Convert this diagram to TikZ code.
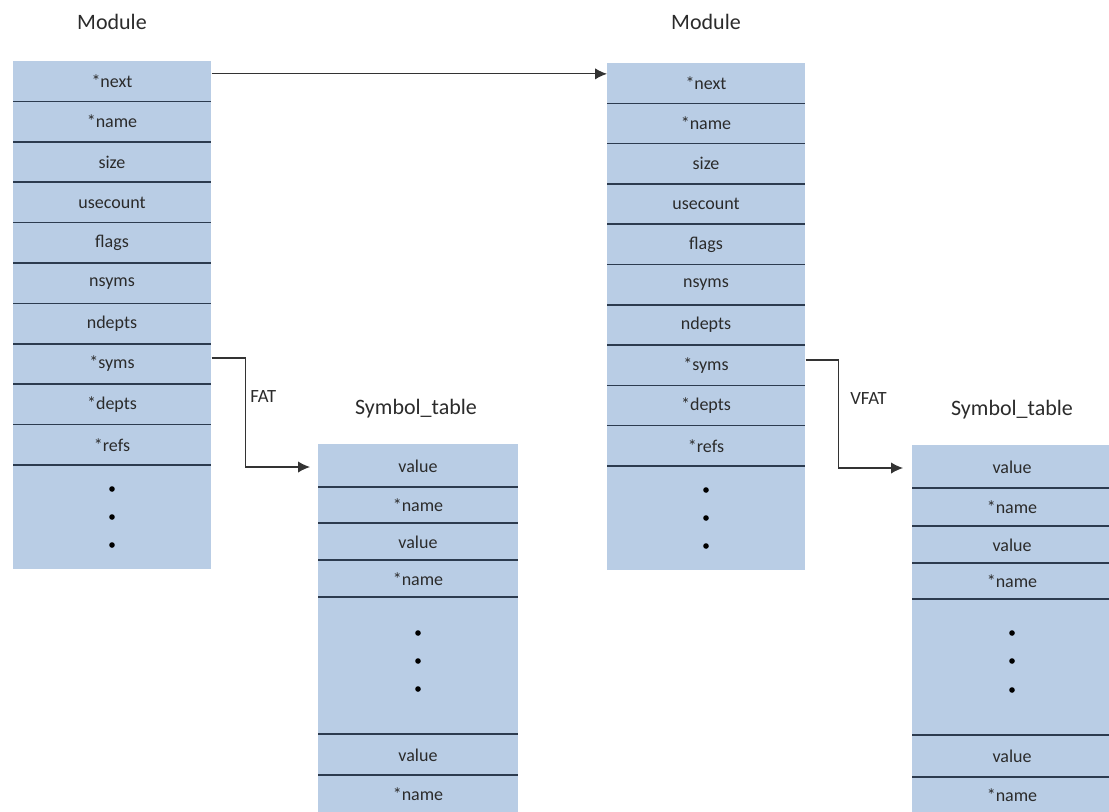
\documentclass[tikz,border=0pt]{standalone}
\usepackage{fontspec}
\setmainfont{Carlito}
\usetikzlibrary{arrows.meta}
\definecolor{cellfill}{HTML}{B9CDE5}
\definecolor{rulecol}{HTML}{2C3B4F}
\definecolor{ink}{HTML}{2B2B2B}
\definecolor{wire}{HTML}{333333}
\begin{document}
\begin{tikzpicture}[x=0.75pt,y=-0.75pt,
  cell/.style={inner sep=0pt, text=ink, font=\fontsize{13.5}{15}\selectfont},
  header/.style={inner sep=0pt, text=ink, font=\fontsize{16.5}{18}\selectfont},
  tag/.style={inner sep=0pt, text=ink, font=\fontsize{14}{16}\selectfont, anchor=west},
  box/.style={fill=cellfill, draw=none, inner sep=0pt, anchor=north west},
  divider/.style={draw=rulecol, line width=1.1pt},
  conn/.style={draw=wire, line width=0.9pt},
  tip/.style={-{Latex[length=9pt,width=8.5pt]}}
]
\useasboundingbox (0,0) rectangle (1109,811);
\clip (0,0) rectangle (1109,811);

% ---------- left module ----------
\node[header] (Lhead) at (112,22) {Module};
\node[box, minimum width=148.5pt, minimum height=381pt] (L) at (13,61) {};
\foreach \t [count=\i] in {*next,*name,size,usecount,flags,nsyms,ndepts,*syms,*depts,*refs}
  \node[cell] (L\i) at (112,{61+40.4*\i-20.2}) {\t};
\foreach \i in {1,...,10}
  \draw[divider] (13,{61+40.4*\i}) -- (211,{61+40.4*\i});
\foreach \y in {489,517,545}
  \fill[black] (112,\y) circle (2.8);

% ---------- right module ----------
\node[header] (Rhead) at (706,22) {Module};
\node[box, minimum width=148.5pt, minimum height=380.25pt] (R) at (607,63) {};
\foreach \t [count=\i] in {*next,*name,size,usecount,flags,nsyms,ndepts,*syms,*depts,*refs}
  \node[cell] (R\i) at (706,{63+40.3*\i-20.15}) {\t};
\foreach \i in {1,...,10}
  \draw[divider] (607,{63+40.3*\i}) -- (805,{63+40.3*\i});
\foreach \y in {490,518,546}
  \fill[black] (706,\y) circle (2.8);

% ---------- left symbol table ----------
\node[header] (SLhead) at (416,409) {Symbol\_table};
\node[box, minimum width=150pt, minimum height=285pt] (SL) at (318,444) {};
\node[cell] (SL1) at (418,466) {value};
\node[cell] (SL2) at (418,505) {*name};
\node[cell] (SL3) at (418,542) {value};
\node[cell] (SL4) at (418,579) {*name};
\node[cell] (SL5) at (418,755) {value};
\node[cell] (SL6) at (418,794) {*name};
\foreach \y in {487,523,560,597,734,775}
  \draw[divider] (318,\y) -- (518,\y);
\foreach \y in {633,661,689}
  \fill[black] (418,\y) circle (2.8);

% ---------- right symbol table ----------
\node[header] (SRhead) at (1012,410) {Symbol\_table};
\node[box, minimum width=150pt, minimum height=285pt] (SR) at (912,445) {};
\node[cell] (SR1) at (1012,467) {value};
\node[cell] (SR2) at (1012,507) {*name};
\node[cell] (SR3) at (1012,545) {value};
\node[cell] (SR4) at (1012,581) {*name};
\node[cell] (SR5) at (1012,756) {value};
\node[cell] (SR6) at (1012,795) {*name};
\foreach \y in {488,526,563,599,735,777}
  \draw[divider] (912,\y) -- (1112,\y);
\foreach \y in {633,661,690}
  \fill[black] (1012,\y) circle (2.8);

% ---------- links ----------
\draw[conn, tip] ([yshift=5.5pt]L1.center -| L.east) -- ([yshift=5.5pt]L1.center -| R.west);
\draw[conn, tip] ([yshift=4.5pt]L8.center -| L.east) -- ++(34,0) |- ([xshift=-6pt,yshift=-0.75pt]SL1.center -| SL.west);
\draw[conn, tip] ([yshift=4pt]R8.center -| R.east) -- ++(33,0) |- ([xshift=-6.75pt,yshift=-0.75pt]SR1.center -| SR.west);

\node[tag] (fat) at (250,397) {FAT};
\node[tag] (vfat) at (850,399) {VFAT};
\end{tikzpicture}
\end{document}
